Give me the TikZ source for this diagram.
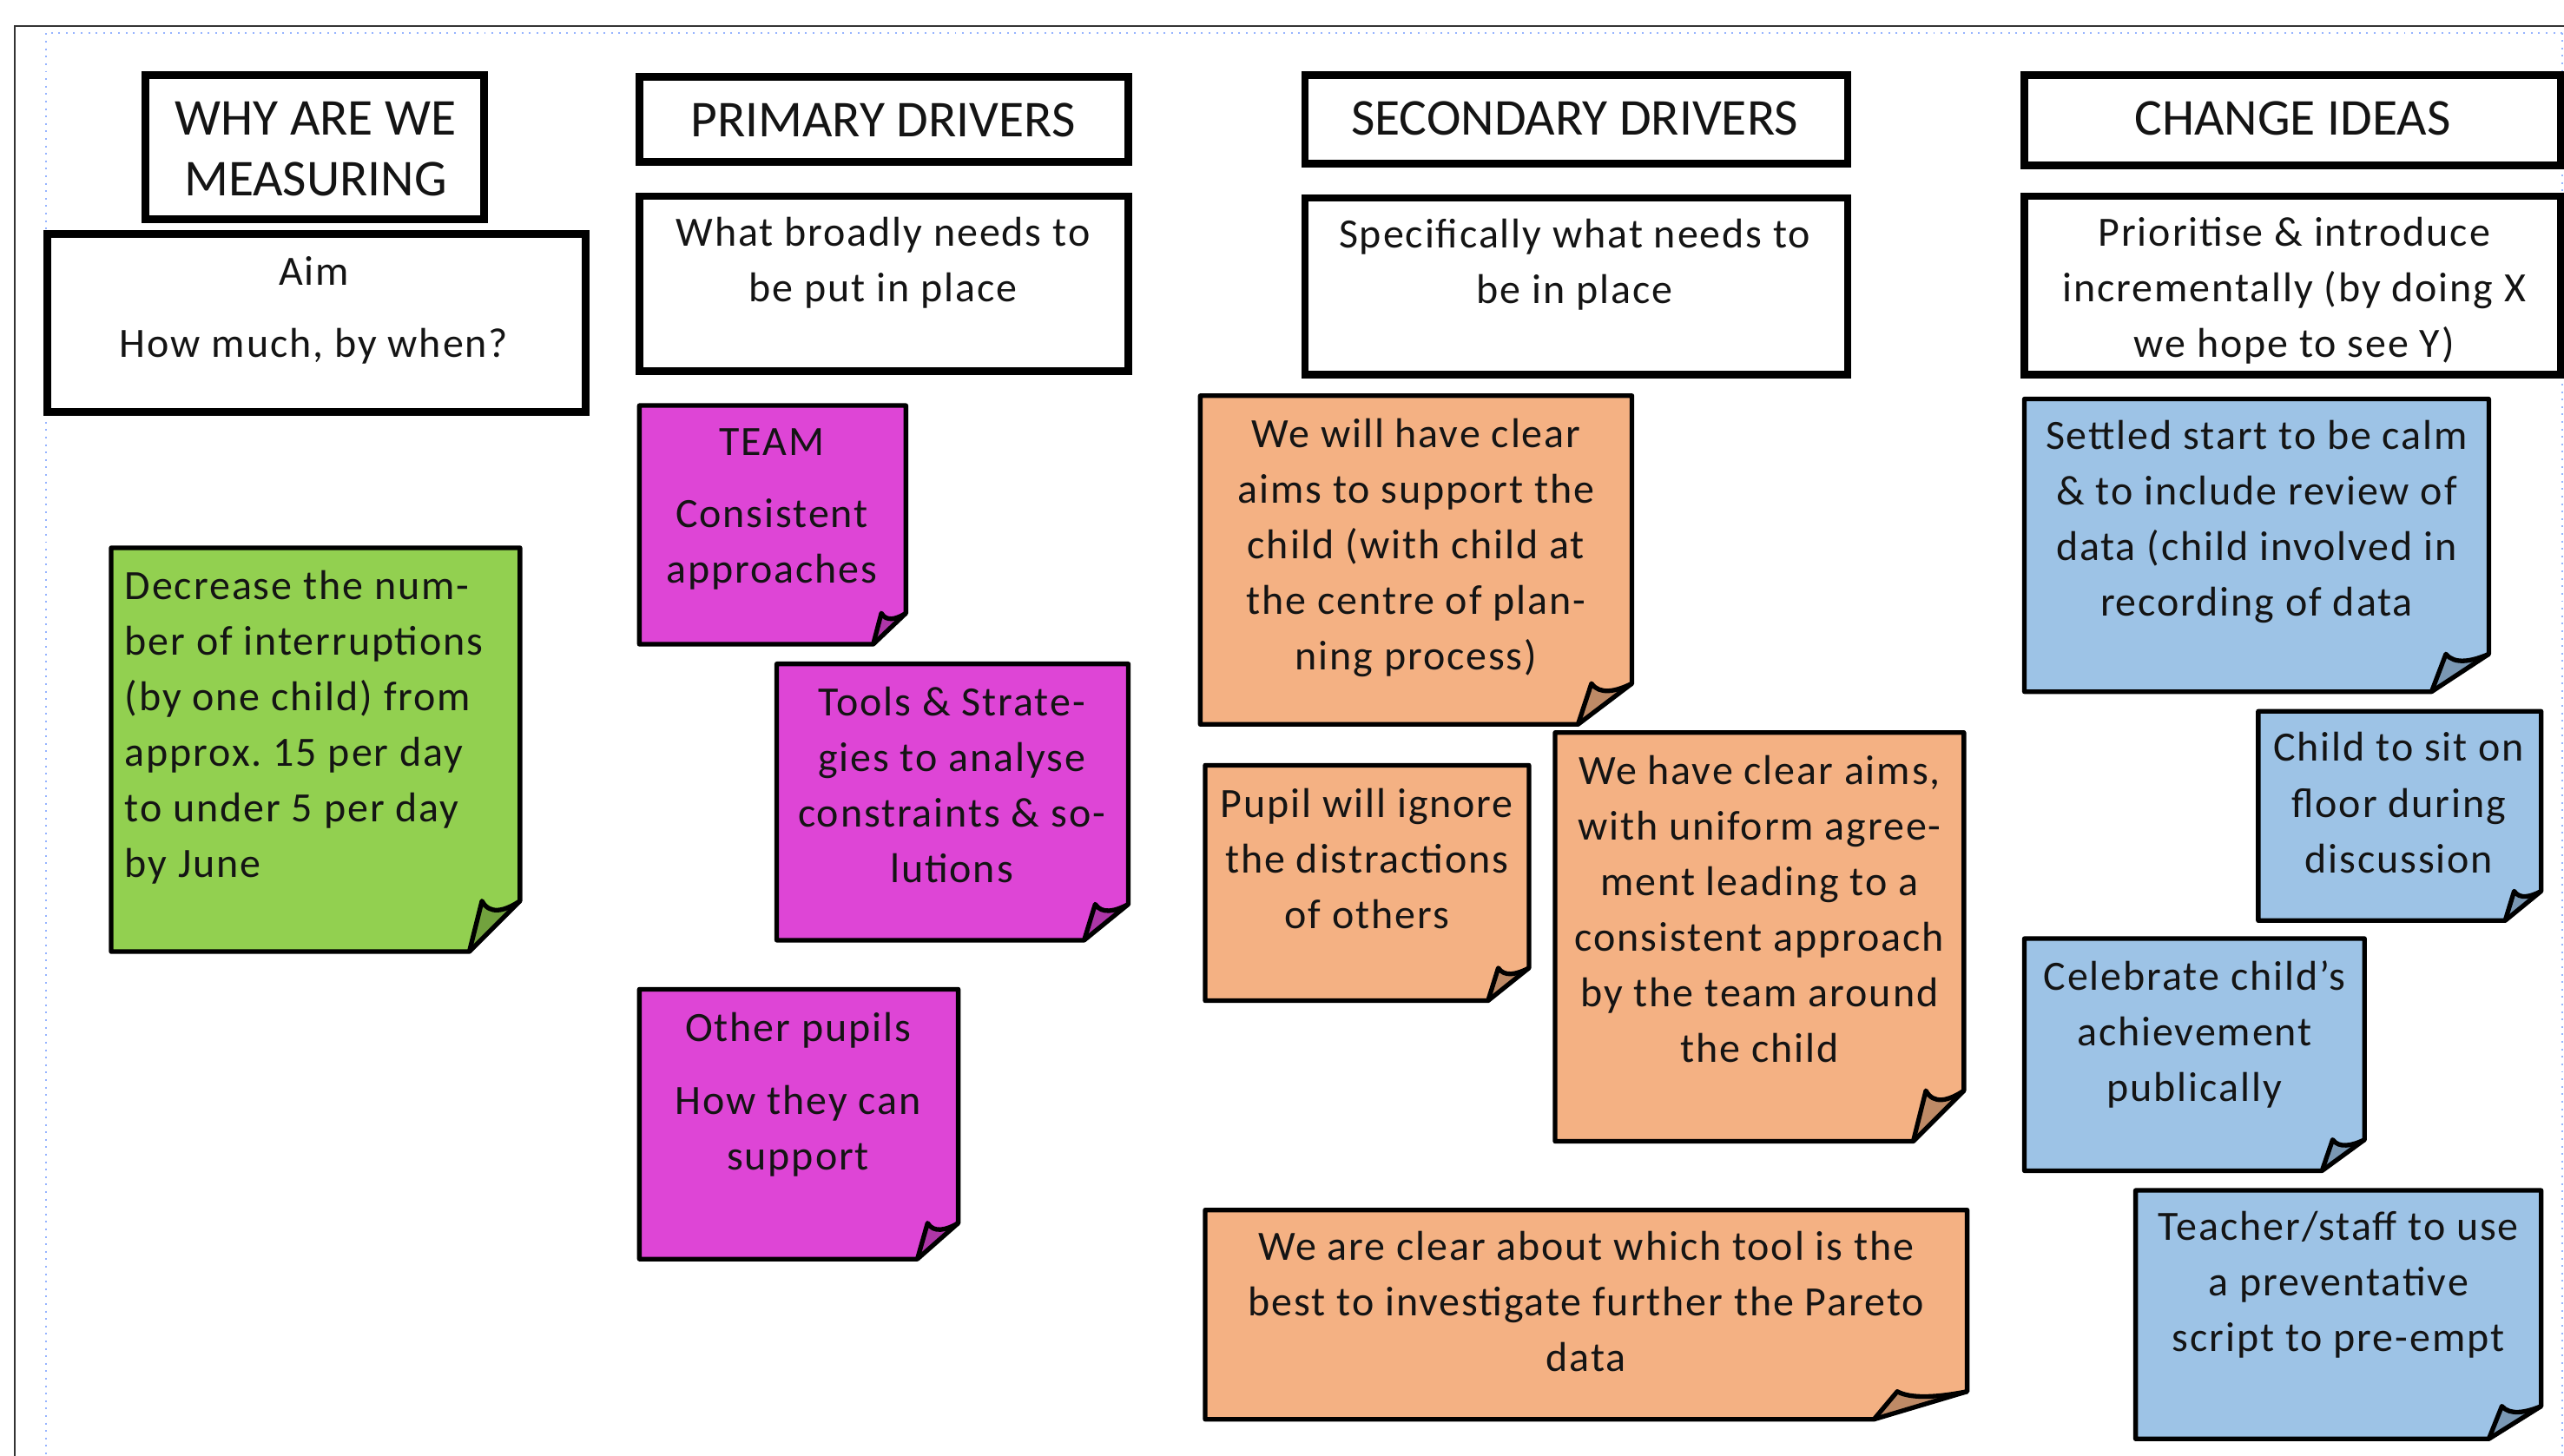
\documentclass[tikz,border=0pt]{standalone}
\usepackage{fontspec}
\setmainfont{Carlito}
\newfontfamily\bodyff{Carlito}[LetterSpace=4.0]
\newcommand\bodyfont{\bodyff\fontsize{14.5}{19.35}\selectfont}
\newcommand\headfont{\rmfamily\fontsize{18}{21}\selectfont}
\definecolor{notegreen}{HTML}{92D050}
\definecolor{notemag}{HTML}{DE45D6}
\definecolor{noteorange}{HTML}{F4B183}
\definecolor{noteblue}{HTML}{9DC3E6}
\definecolor{txt}{HTML}{141414}
\definecolor{dotblue}{RGB}{150,180,255}
\frenchspacing
\newcommand\stickynote[7]{%
  \fill[#7] (#1,#2) -- (#3,#2) -- ({#3},{#4-#6}) -- ({#3-#5},{#4}) -- (#1,#4) -- cycle;
  \fill[#7!78!black] ({#3-#5},{#4}) -- ({#3-0.75*#5},{#4-#6})
     .. controls ({#3-0.6*#5},{#4-0.72*#6}) and ({#3-0.3*#5},{#4-0.8*#6}) .. ({#3},{#4-#6}) -- cycle;
  \draw[notebd] (#1,#2) -- (#3,#2) -- ({#3},{#4-#6}) -- ({#3-#5},{#4}) -- (#1,#4) -- cycle;
  \draw[notebd] ({#3-#5},{#4}) -- ({#3-0.75*#5},{#4-#6})
     .. controls ({#3-0.6*#5},{#4-0.72*#6}) and ({#3-0.3*#5},{#4-0.8*#6}) .. ({#3},{#4-#6});
}
\begin{document}
\begin{tikzpicture}[x=0.02cm,y=-0.02cm,
  hdrbox/.style={draw=black,line width=2.6pt},
  notebd/.style={draw=black,line width=1.6pt,line join=round},
  headtxt/.style={anchor=north,inner sep=0pt,align=center,text=txt,font=\headfont},
  bodytxt/.style={anchor=north,inner sep=0pt,align=center,text=txt,font=\bodyfont},
  lefttxt/.style={anchor=north west,inner sep=0pt,align=left,text=txt,font=\bodyfont}]
\useasboundingbox (0,0) rectangle (1568,890);
\fill[white] (0,0) rectangle (1568,890);
% page frame
\draw[black!80,line width=0.8pt] (1570,16) -- (9,16) -- (9,895);
\draw[dotblue,line width=0.6pt,dotted] (1567,20) -- (28,20) -- (28,895);
\draw[dotblue,line width=0.6pt,dotted] (1567,20) -- (1567,895);
% header boxes
\draw[hdrbox,fill=white] (89,46) rectangle (296,134);
\draw[hdrbox,fill=white] (29,143) rectangle (358,252);
\draw[hdrbox,fill=white] (391,47) rectangle (690,99);
\draw[hdrbox,fill=white] (391,120) rectangle (690,227);
\draw[hdrbox,fill=white] (798,46) rectangle (1130,100);
\draw[hdrbox,fill=white] (798,121) rectangle (1130,229);
\draw[hdrbox,fill=white] (1238,46) rectangle (1566,101);
\draw[hdrbox,fill=white] (1238,120) rectangle (1566,229);
\node[headtxt] (why) at (193,56.4) {\strut WHY ARE WE\\MEASURING};
\node[bodytxt] (aim) at (192,150.5) {\strut Aim\\[5.7pt]How much, by when?};
\node[headtxt] (prim) at (540,57.4) {\strut PRIMARY DRIVERS};
\node[bodytxt] (primq) at (540,126.5) {\strut What broadly needs to\\be put in place};
\node[headtxt] (sec) at (963,56.4) {\strut SECONDARY DRIVERS};
\node[bodytxt] (secq) at (963,127.5) {\strut Specifically what needs to\\be in place};
\node[headtxt] (chg) at (1402,56.4) {\strut CHANGE IDEAS};
\node[bodytxt] (chgq) at (1403,126.5) {\strut Prioritise \& introduce\\incrementally (by doing X\\we hope to see Y)};
% sticky notes
\stickynote{68}{335}{318}{582}{31}{31}{notegreen}
\stickynote{391}{248}{554}{394}{20}{19}{notemag}
\stickynote{475}{406}{690}{575}{27}{22}{notemag}
\stickynote{391}{605}{586}{770}{25}{22}{notemag}
\stickynote{734}{242}{998}{443}{33}{25}{noteorange}
\stickynote{737}{468}{935}{612}{25}{20}{noteorange}
\stickynote{951}{448}{1201}{698}{31}{31}{noteorange}
\stickynote{737}{740}{1203}{868}{57}{17}{noteorange}
\stickynote{1238}{244}{1522}{423}{35}{23}{noteblue}
\stickynote{1381}{435}{1554}{563}{22}{18}{noteblue}
\stickynote{1238}{574}{1446}{716}{26}{19}{noteblue}
\stickynote{1306}{728}{1554}{880}{32}{20}{noteblue}
% note texts
\node[lefttxt] (aimtxt) at (76,342.5) {\strut Decrease the num-\\ber of interruptions\\(by one child) from\\approx. 15 per day\\to under 5 per day\\by June};
\node[bodytxt] (team) at (472,254.5) {\strut TEAM\\[5.7pt]Consistent\\approaches};
\node[bodytxt] (tools) at (582,413.5) {\strut Tools \& Strate-\\gies to analyse\\constraints \& so-\\lutions};
\node[bodytxt] (pupils) at (488,612.5) {\strut Other pupils\\[6.3pt]How they can\\support};
\node[bodytxt] (sd1) at (866,249.5) {\strut We will have clear\\aims to support the\\child (with child at\\the centre of plan-\\ning process)};
\node[bodytxt] (sd2) at (836,475.5) {\strut Pupil will ignore\\the distractions\\of others};
\node[bodytxt] (sd3) at (1076,455.5) {\strut We have clear aims,\\with uniform agree-\\ment leading to a\\consistent approach\\by the team around\\the child};
\node[bodytxt] (sd4) at (970,746.5) {\strut We are clear about which tool is the\\best to investigate further the Pareto\\data};
\node[bodytxt] (ci1) at (1380,250.5) {\strut Settled start to be calm\\\& to include review of\\data (child involved in\\recording of data};
\node[bodytxt] (ci2) at (1467,441.5) {\strut Child to sit on\\floor during\\discussion};
\node[bodytxt] (ci3) at (1342,581.5) {\strut Celebrate child’s\\achievement\\publically};
\node[bodytxt] (ci4) at (1430,734.5) {\strut Teacher/staff to use\\a preventative\\script to pre-empt};
\end{tikzpicture}
\end{document}
